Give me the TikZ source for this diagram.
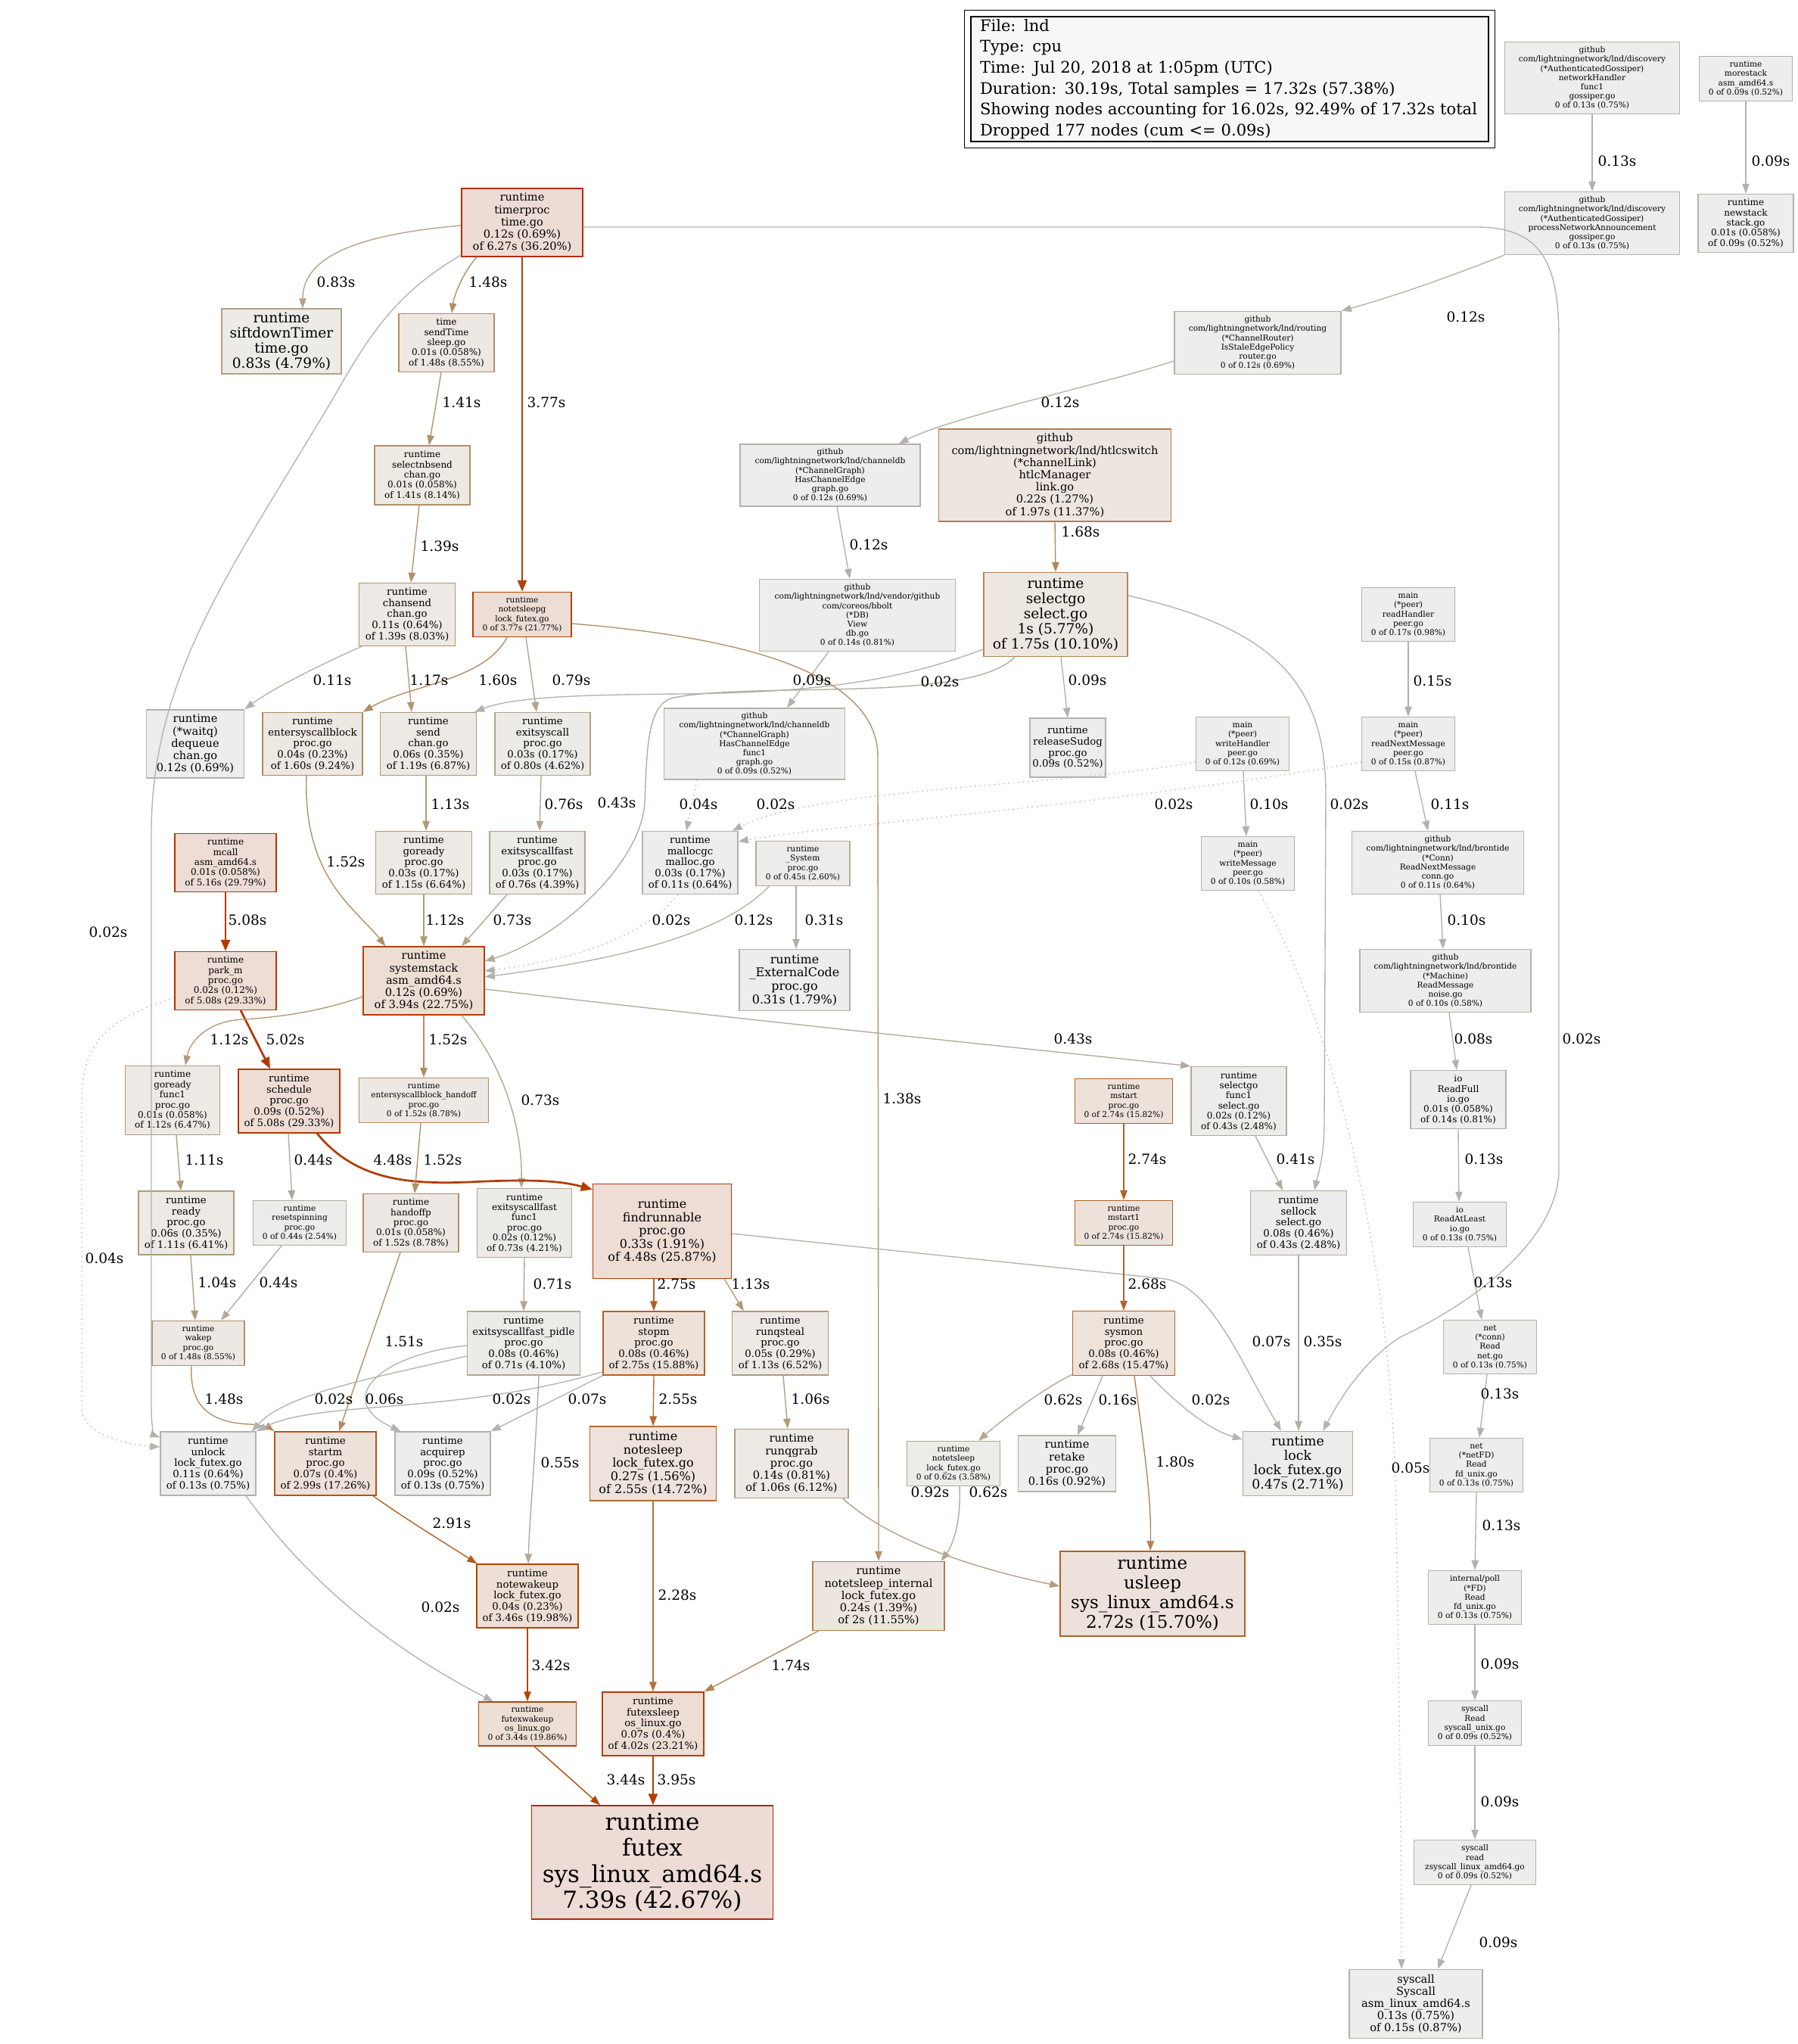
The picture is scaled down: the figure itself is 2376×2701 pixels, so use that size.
\documentclass[tikz,border=0pt]{standalone}
\usepackage{fontspec}
\setmainfont{DejaVu Serif}
\usetikzlibrary{arrows.meta,calc}
\newcommand\ppcol[2]{%
 \pgfmathsetmacro\ppS{#2/17.32}%
 \pgfmathsetmacro\ppSat{min(\ppS/0.2,1)}%
 \pgfmathsetmacro\ppP{pow(\ppS,0.3)}%
 \pgfmathsetmacro\ppG{0.7*(1-\ppSat*\ppP)}%
 \pgfmathsetmacro\ppB{0.7*(1-\ppSat)}%
 \pgfmathsetmacro\ppGb{0.93*(1-0.1*\ppSat*\ppP)}%
 \pgfmathsetmacro\ppBb{0.93*(1-0.1*\ppSat)}%
 \definecolor{#1fg}{rgb}{0.7,\ppG,\ppB}%
 \definecolor{#1bg}{rgb}{0.93,\ppGb,\ppBb}%
}
\ppcol{w2}{0.02}\ppcol{w4}{0.04}\ppcol{w5}{0.05}\ppcol{w6}{0.06}\ppcol{w7}{0.07}
\ppcol{w8}{0.08}\ppcol{w9}{0.09}\ppcol{w10}{0.10}\ppcol{w11}{0.11}\ppcol{w12}{0.12}
\ppcol{w13}{0.13}\ppcol{w15}{0.15}\ppcol{w16}{0.16}\ppcol{w31}{0.31}\ppcol{w35}{0.35}
\ppcol{w41}{0.41}\ppcol{w43}{0.43}\ppcol{w44}{0.44}\ppcol{w55}{0.55}\ppcol{w62}{0.62}
\ppcol{w71}{0.71}\ppcol{w73}{0.73}\ppcol{w76}{0.76}\ppcol{w79}{0.79}\ppcol{w83}{0.83}
\ppcol{w92}{0.92}\ppcol{w104}{1.04}\ppcol{w106}{1.06}\ppcol{w111}{1.11}\ppcol{w112}{1.12}
\ppcol{w113}{1.13}\ppcol{w117}{1.17}\ppcol{w138}{1.38}\ppcol{w139}{1.39}\ppcol{w141}{1.41}
\ppcol{w148}{1.48}\ppcol{w151}{1.51}\ppcol{w152}{1.52}\ppcol{w160}{1.60}\ppcol{w168}{1.68}
\ppcol{w174}{1.74}\ppcol{w180}{1.80}\ppcol{w228}{2.28}\ppcol{w255}{2.55}\ppcol{w268}{2.68}
\ppcol{w274}{2.74}\ppcol{w275}{2.75}\ppcol{w291}{2.91}\ppcol{w342}{3.42}\ppcol{w344}{3.44}
\ppcol{w377}{3.77}\ppcol{w395}{3.95}\ppcol{w448}{4.48}\ppcol{w502}{5.02}\ppcol{w508}{5.08}
\newcommand\fA{\fontsize{10.6}{12.2}\selectfont}
\newcommand\fB{\fontsize{12}{13.4}\selectfont}
\newcommand\fC{\fontsize{13.3}{14.7}\selectfont}
\newcommand\fD{\fontsize{14.6}{16.2}\selectfont}
\newcommand\fE{\fontsize{16}{17.6}\selectfont}
\newcommand\fF{\fontsize{17.3}{18.8}\selectfont}
\newcommand\fG{\fontsize{18.6}{19.8}\selectfont}
\newcommand\fH{\fontsize{23}{26}\selectfont}
\newcommand\fI{\fontsize{31}{34.5}\selectfont}
\newcommand\GN[8]{\ppcol{n#1}{#7}\node[nbox, minimum width=#4pt, minimum height=#5pt, draw=n#1fg, fill=n#1bg, font=#6] (#1) at (#2,#3) {#8};}
\newcommand\EL[4]{\node[lab] (#1) at (#2,#3) {#4};}
\tikzset{
 nbox/.style={rectangle, inner sep=0pt, align=center, line width=1.4pt},
 lab/.style={inner sep=0pt, font=\fontsize{18.5}{20}\selectfont},
 ed/.style={draw=#1fg, line width=1.35pt, -{Triangle[length=13pt,width=9.5pt]}},
 edT/.style={draw=#1fg, line width=2.7pt, -{Triangle[length=15pt,width=12pt]}},
 edD/.style={draw=#1fg, line width=1.35pt, dash pattern=on 1.35pt off 5pt, -{Triangle[length=13pt,width=9.5pt]}},
}
\begin{document}
\begin{tikzpicture}[x=1pt,y=-1pt]
\fill[white] (0,0) rectangle (2376,2701);
\useasboundingbox (0,0) rectangle (2376,2701);
% legend
\node[draw=black, line width=1.4pt, fill=black!3, minimum width=684pt, minimum height=165pt, text width=660pt, inner xsep=12pt, align=left, font=\fontsize{21}{27.6}\selectfont] (legend) at (1625,104.5) {File: lnd\\Type: cpu\\Time: Jul 20, 2018 at 1:05pm (UTC)\\Duration: 30.19s, Total samples = 17.32s (57.38\%)\\Showing nodes accounting for 16.02s, 92.49\% of 17.32s total\\Dropped 177 nodes (cum <= 0.09s)};
\draw[line width=1.4pt] ($(legend.south west)+(-8,8)$) rectangle ($(legend.north east)+(8,-8)$);
% nodes
\GN{nH}{2104}{103}{231}{95}{\fA}{0.13}{github\\com/lightningnetwork/lnd/discovery\\(*AuthenticatedGossiper)\\networkHandler\\func1\\gossiper.go\\0 of 0.13s (0.75\%)}
\GN{morestack}{2307}{104}{123}{59}{\fA}{0.09}{runtime\\morestack\\asm\_amd64.s\\0 of 0.09s (0.52\%)}
\GN{pNA}{2104}{295}{231}{83}{\fA}{0.13}{github\\com/lightningnetwork/lnd/discovery\\(*AuthenticatedGossiper)\\processNetworkAnnouncement\\gossiper.go\\0 of 0.13s (0.75\%)}
\GN{newstack}{2307}{295}{126}{77}{\fB}{0.09}{runtime\\newstack\\stack.go\\0.01s (0.058\%)\\of 0.09s (0.52\%)}
\GN{routing}{1662}{453}{220}{83}{\fA}{0.12}{github\\com/lightningnetwork/lnd/routing\\(*ChannelRouter)\\IsStaleEdgePolicy\\router.go\\0 of 0.12s (0.69\%)}
\GN{ceHas}{1097}{628}{238}{82}{\fA}{0.12}{github\\com/lightningnetwork/lnd/channeldb\\(*ChannelGraph)\\HasChannelEdge\\graph.go\\0 of 0.12s (0.69\%)}
\GN{htlc}{1394}{628}{307}{122}{\fD}{1.97}{github\\com/lightningnetwork/lnd/htlcswitch\\(*channelLink)\\htlcManager\\link.go\\0.22s (1.27\%)\\of 1.97s (11.37\%)}
\GN{bbolt}{1133}{813}{259}{95}{\fA}{0.14}{github\\com/lightningnetwork/lnd/vendor/github\\com/coreos/bbolt\\(*DB)\\View\\db.go\\0 of 0.14s (0.81\%)}
\GN{ceFunc}{997}{983}{239}{94}{\fA}{0.09}{github\\com/lightningnetwork/lnd/channeldb\\(*ChannelGraph)\\HasChannelEdge\\func1\\graph.go\\0 of 0.09s (0.52\%)}
\GN{selectgo}{1395}{812}{190}{111}{\fG}{1.75}{runtime\\selectgo\\select.go\\1s (5.77\%)\\of 1.75s (10.10\%)}
\GN{releaseSudog}{1411}{988}{100}{78}{\fC}{0.09}{runtime\\releaseSudog\\proc.go\\0.09s (0.52\%)}
\GN{readHandler}{1861}{812}{123}{71}{\fA}{0.17}{main\\(*peer)\\readHandler\\peer.go\\0 of 0.17s (0.98\%)}
\GN{readNext}{1861}{983}{123}{71}{\fA}{0.15}{main\\(*peer)\\readNextMessage\\peer.go\\0 of 0.15s (0.87\%)}
\GN{writeHandler}{1642}{983}{123}{71}{\fA}{0.12}{main\\(*peer)\\writeHandler\\peer.go\\0 of 0.12s (0.69\%)}
\GN{writeMessage}{1649}{1141}{123}{71}{\fA}{0.10}{main\\(*peer)\\writeMessage\\peer.go\\0 of 0.10s (0.58\%)}
\GN{brConn}{1900}{1140}{227}{83}{\fA}{0.11}{github\\com/lightningnetwork/lnd/brontide\\(*Conn)\\ReadNextMessage\\conn.go\\0 of 0.11s (0.64\%)}
\GN{brMachine}{1910}{1296}{226}{83}{\fA}{0.10}{github\\com/lightningnetwork/lnd/brontide\\(*Machine)\\ReadMessage\\noise.go\\0 of 0.10s (0.58\%)}
\GN{readFull}{1927}{1453}{126}{77}{\fB}{0.14}{io\\ReadFull\\io.go\\0.01s (0.058\%)\\of 0.14s (0.81\%)}
\GN{readAtLeast}{1929}{1618}{123}{59}{\fA}{0.13}{io\\ReadAtLeast\\io.go\\0 of 0.13s (0.75\%)}
\GN{netConn}{1969}{1780}{123}{71}{\fA}{0.13}{net\\(*conn)\\Read\\net.go\\0 of 0.13s (0.75\%)}
\GN{netFD}{1951}{1936}{123}{71}{\fA}{0.13}{net\\(*netFD)\\Read\\fd\_unix.go\\0 of 0.13s (0.75\%)}
\GN{poll}{1949}{2111}{123}{71}{\fA}{0.13}{internal/poll\\(*FD)\\Read\\fd\_unix.go\\0 of 0.13s (0.75\%)}
\GN{sysRead}{1949}{2277}{123}{59}{\fA}{0.09}{syscall\\Read\\syscall\_unix.go\\0 of 0.09s (0.52\%)}
\GN{sysread}{1949}{2461}{161}{59}{\fA}{0.09}{syscall\\read\\zsyscall\_linux\_amd64.go\\0 of 0.09s (0.52\%)}
\GN{Syscall}{1871}{2648}{176}{91}{\fD}{0.15}{syscall\\Syscall\\asm\_linux\_amd64.s\\0.13s (0.75\%)\\of 0.15s (0.87\%)}
\GN{timerproc}{690}{294}{160}{90}{\fD}{6.27}{runtime\\timerproc\\time.go\\0.12s (0.69\%)\\of 6.27s (36.20\%)}
\GN{siftdown}{372}{451}{158}{86}{\fG}{0.83}{runtime\\siftdownTimer\\time.go\\0.83s (4.79\%)}
\GN{sendTime}{590}{453}{126}{77}{\fB}{1.48}{time\\sendTime\\sleep.go\\0.01s (0.058\%)\\of 1.48s (8.55\%)}
\GN{selectnbsend}{558}{628}{126}{78}{\fB}{1.41}{runtime\\selectnbsend\\chan.go\\0.01s (0.058\%)\\of 1.41s (8.14\%)}
\GN{chansend}{538}{812}{127}{83}{\fC}{1.39}{runtime\\chansend\\chan.go\\0.11s (0.64\%)\\of 1.39s (8.03\%)}
\GN{notetsleepg}{690}{812}{130}{59}{\fA}{3.77}{runtime\\notetsleepg\\lock\_futex.go\\0 of 3.77s (21.77\%)}
\GN{waitq}{258}{983}{129}{90}{\fD}{0.12}{runtime\\(*waitq)\\dequeue\\chan.go\\0.12s (0.69\%)}
\GN{enterblock}{413}{983}{132}{83}{\fC}{1.60}{runtime\\entersyscallblock\\proc.go\\0.04s (0.23\%)\\of 1.60s (9.24\%)}
\GN{send}{566}{983}{127}{83}{\fC}{1.19}{runtime\\send\\chan.go\\0.06s (0.35\%)\\of 1.19s (6.87\%)}
\GN{exitsyscall}{717}{983}{126}{83}{\fC}{0.80}{runtime\\exitsyscall\\proc.go\\0.03s (0.17\%)\\of 0.80s (4.62\%)}
\GN{mcall}{298}{1140}{134}{77}{\fB}{5.16}{runtime\\mcall\\asm\_amd64.s\\0.01s (0.058\%)\\of 5.16s (29.79\%)}
\GN{goready}{560}{1140}{127}{83}{\fC}{1.15}{runtime\\goready\\proc.go\\0.03s (0.17\%)\\of 1.15s (6.64\%)}
\GN{exitfast}{710}{1140}{126}{83}{\fC}{0.76}{runtime\\exitsyscallfast\\proc.go\\0.03s (0.17\%)\\of 0.76s (4.39\%)}
\GN{mallocgc}{912}{1140}{126}{83}{\fC}{0.11}{runtime\\mallocgc\\malloc.go\\0.03s (0.17\%)\\of 0.11s (0.64\%)}
\GN{System}{1061}{1141}{124}{59}{\fA}{0.45}{runtime\\\_System\\proc.go\\0 of 0.45s (2.60\%)}
\GN{ExternalCode}{1050}{1295}{146}{81}{\fE}{0.31}{runtime\\\_ExternalCode\\proc.go\\0.31s (1.79\%)}
\GN{parkm}{298}{1296}{134}{77}{\fB}{5.08}{runtime\\park\_m\\proc.go\\0.02s (0.12\%)\\of 5.08s (29.33\%)}
\GN{systemstack}{560}{1296}{160}{90}{\fD}{3.94}{runtime\\systemstack\\asm\_amd64.s\\0.12s (0.69\%)\\of 3.94s (22.75\%)}
\GN{goreadyf}{228}{1454}{125}{91}{\fB}{1.12}{runtime\\goready\\func1\\proc.go\\0.01s (0.058\%)\\of 1.12s (6.47\%)}
\GN{schedule}{382}{1455}{134}{84}{\fC}{5.08}{runtime\\schedule\\proc.go\\0.09s (0.52\%)\\of 5.08s (29.33\%)}
\GN{enterhandoff}{560}{1454}{171}{59}{\fA}{1.52}{runtime\\entersyscallblock\_handoff\\proc.go\\0 of 1.52s (8.78\%)}
\GN{selectf}{1637}{1455}{126}{91}{\fB}{0.43}{runtime\\selectgo\\func1\\select.go\\0.02s (0.12\%)\\of 0.43s (2.48\%)}
\GN{mstart}{1485}{1455}{129}{59}{\fA}{2.74}{runtime\\mstart\\proc.go\\0 of 2.74s (15.82\%)}
\GN{ready}{246}{1616}{126}{84}{\fC}{1.11}{runtime\\ready\\proc.go\\0.06s (0.35\%)\\of 1.11s (6.41\%)}
\GN{resetspin}{396}{1616}{123}{59}{\fA}{0.44}{runtime\\resetspinning\\proc.go\\0 of 0.44s (2.54\%)}
\GN{handoffp}{543}{1616}{126}{77}{\fB}{1.52}{runtime\\handoffp\\proc.go\\0.01s (0.058\%)\\of 1.52s (8.78\%)}
\GN{exitfastf}{693}{1616}{125}{91}{\fB}{0.73}{runtime\\exitsyscallfast\\func1\\proc.go\\0.02s (0.12\%)\\of 0.73s (4.21\%)}
\GN{findrunnable}{875}{1627}{183}{125}{\fE}{4.48}{runtime\\findrunnable\\proc.go\\0.33s (1.91\%)\\of 4.48s (25.87\%)}
\GN{mstarta}{1485}{1616}{129}{59}{\fA}{2.74}{runtime\\mstart1\\proc.go\\0 of 2.74s (15.82\%)}
\GN{sellock}{1716}{1616}{127}{85}{\fC}{0.43}{runtime\\sellock\\select.go\\0.08s (0.46\%)\\of 0.43s (2.48\%)}
\GN{wakep}{262}{1775}{122}{59}{\fA}{1.48}{runtime\\wakep\\proc.go\\0 of 1.48s (8.55\%)}
\GN{pidle}{692}{1775}{149}{84}{\fC}{0.71}{runtime\\exitsyscallfast\_pidle\\proc.go\\0.08s (0.46\%)\\of 0.71s (4.10\%)}
\GN{stopm}{864}{1775}{134}{84}{\fC}{2.75}{runtime\\stopm\\proc.go\\0.08s (0.46\%)\\of 2.75s (15.88\%)}
\GN{runqsteal}{1031}{1775}{127}{84}{\fC}{1.13}{runtime\\runqsteal\\proc.go\\0.05s (0.29\%)\\of 1.13s (6.52\%)}
\GN{sysmon}{1485}{1775}{135}{85}{\fC}{2.68}{runtime\\sysmon\\proc.go\\0.08s (0.46\%)\\of 2.68s (15.47\%)}
\GN{unlock}{275}{1934}{126}{84}{\fC}{0.13}{runtime\\unlock\\lock\_futex.go\\0.11s (0.64\%)\\of 0.13s (0.75\%)}
\GN{startm}{430}{1934}{134}{84}{\fC}{2.99}{runtime\\startm\\proc.go\\0.07s (0.4\%)\\of 2.99s (17.26\%)}
\GN{acquirep}{585}{1934}{126}{84}{\fC}{0.13}{runtime\\acquirep\\proc.go\\0.09s (0.52\%)\\of 0.13s (0.75\%)}
\GN{notesleep}{863}{1934}{167}{98}{\fE}{2.55}{runtime\\notesleep\\lock\_futex.go\\0.27s (1.56\%)\\of 2.55s (14.72\%)}
\GN{runqgrab}{1046}{1934}{150}{91}{\fD}{1.06}{runtime\\runqgrab\\proc.go\\0.14s (0.81\%)\\of 1.06s (6.12\%)}
\GN{notetsleep}{1260}{1934}{123}{59}{\fA}{0.62}{runtime\\notetsleep\\lock\_futex.go\\0 of 0.62s (3.58\%)}
\GN{retake}{1410}{1934}{129}{74}{\fD}{0.16}{runtime\\retake\\proc.go\\0.16s (0.92\%)}
\GN{lock}{1715}{1934}{145}{85}{\fF}{0.47}{runtime\\lock\\lock\_futex.go\\0.47s (2.71\%)}
\GN{notewakeup}{697}{2109}{134}{84}{\fC}{3.46}{runtime\\notewakeup\\lock\_futex.go\\0.04s (0.23\%)\\of 3.46s (19.98\%)}
\GN{notetsleepInt}{1161}{2109}{174}{91}{\fD}{2.00}{runtime\\notetsleep\_internal\\lock\_futex.go\\0.24s (1.39\%)\\of 2s (11.55\%)}
\GN{usleep}{1523}{2106}{244}{112}{\fH}{2.72}{runtime\\usleep\\sys\_linux\_amd64.s\\2.72s (15.70\%)}
\GN{futexwakeup}{697}{2278}{129}{58}{\fA}{3.44}{runtime\\futexwakeup\\os\_linux.go\\0 of 3.44s (19.86\%)}
\GN{futexsleep}{863}{2278}{134}{84}{\fC}{4.02}{runtime\\futexsleep\\os\_linux.go\\0.07s (0.4\%)\\of 4.02s (23.21\%)}
\GN{futex}{862}{2461}{319}{150}{\fI}{7.39}{runtime\\futex\\sys\_linux\_amd64.s\\7.39s (42.67\%)}
% edges
\draw[ed=w13] (nH.south) -- (pNA.north);
\draw[ed=w9] (morestack.south) -- (newstack.north);
\draw[ed=w12] (pNA.south west) .. controls (1900,372) and (1830,395) .. (routing.north east);
\draw[ed=w12] ($(routing.west)+(0,24)$) .. controls (1450,510) and (1260,550) .. ($(ceHas.north east)+(-29,0)$);
\draw[ed=w12] ($(ceHas.south)+(9,0)$) -- ($(bbolt.north)+(-10,0)$);
\draw[ed=w9] ($(bbolt.south)+(-38,0)$) -- ($(ceFunc.north)+(43,0)$);
\draw[ed=w168] (htlc.south) -- (selectgo.north);
\draw[ed=w2] ($(selectgo.west)+(0,46)$) .. controls (1200,895) and (1100,915) .. (900,917) .. controls (780,918) and (680,920) .. ($(send.north east)+(-3,0)$);
\draw[ed=w43] ($(selectgo.south west)+(42,0)$) .. controls (1280,930) and (1000,900) .. (890,922) .. controls (855,930) and (855,990) .. (852,1060) .. controls (848,1140) and (740,1240) .. ($(systemstack.east)+(0,-26)$);
\draw[ed=w9] ($(selectgo.south)+(7,0)$) -- (releaseSudog.north);
\draw[ed=w2] ($(selectgo.east)+(0,-25)$) .. controls (1680,830) and (1752,900) .. (1752,1050) -- (1750,1480) .. controls (1750,1530) and (1742,1550) .. ($(sellock.north)+(21,0)$);
\draw[ed=w83] ($(timerproc.west)+(0,4)$) .. controls (470,310) and (400,340) .. ($(siftdown.north)+(28,0)$);
\draw[ed=w148] ($(timerproc.south)+(-60,0)$) .. controls (612,360) and (600,390) .. ($(sendTime.north)+(7,0)$);
\draw[edT=w377] (timerproc.south) -- (notetsleepg.north);
\draw[ed=w2] ($(timerproc.west)+(0,43)$) .. controls (500,400) and (470,480) .. (420,560) .. controls (300,760) and (200,900) .. (200,1100) -- (200,1860) .. controls (200,1890) and (205,1897) .. ($(unlock.north west)+(0,8)$);
\draw[ed=w2] ($(timerproc.east)+(0,6)$) -- (1950,300) .. controls (2040,300) and (2060,350) .. (2060,450) -- (2060,1550) .. controls (2055,1640) and (1950,1720) .. (1850,1767) .. controls (1800,1800) and (1770,1850) .. ($(lock.north east)+(-40,0)$);
\draw[ed=w141] ($(sendTime.south)+(-7,0)$) -- ($(selectnbsend.north)+(9,0)$);
\draw[ed=w139] ($(selectnbsend.south)+(-4,0)$) -- ($(chansend.north)+(5,0)$);
\draw[ed=w11] ($(chansend.south west)+(4,0)$) .. controls (420,880) and (360,910) .. (waitq.north east);
\draw[ed=w117] ($(chansend.south)+(-2,0)$) -- ($(send.north)+(-22,0)$);
\draw[ed=w160] ($(notetsleepg.south)+(-20,0)$) .. controls (640,900) and (540,905) .. (enterblock.north east);
\draw[ed=w79] ($(notetsleepg.south)+(5,0)$) -- ($(exitsyscall.north)+(-8,0)$);
\draw[ed=w138] ($(notetsleepg.east)+(0,12)$) .. controls (950,840) and (1160,880) .. (1160,1000) -- (notetsleepInt.north);
\draw[ed=w152] ($(enterblock.south)+(-8,0)$) .. controls (400,1160) and (470,1200) .. ($(systemstack.north west)+(30,0)$);
\draw[ed=w113] ($(send.south)+(-3,0)$) -- ($(goready.north)+(3,0)$);
\draw[ed=w76] ($(exitsyscall.south)+(-2,0)$) -- ($(exitfast.north)+(3,0)$);
\draw[ed=w112] (goready.south) -- (systemstack.north);
\draw[ed=w73] ($(exitfast.south)+(-40,0)$) -- ($(systemstack.north)+(50,0)$);
\draw[edT=w508] (mcall.south) -- (parkm.north);
\draw[edT=w502] ($(parkm.south)+(20,0)$) -- ($(schedule.north)+(-25,0)$);
\draw[edD=w4] ($(parkm.west)+(0,22)$) .. controls (150,1345) and (110,1370) .. (108,1450) -- (108,1860) .. controls (108,1900) and (180,1910) .. ($(unlock.west)+(0,-22)$);
\draw[ed=w112] ($(systemstack.west)+(0,21)$) .. controls (420,1338) and (360,1345) .. (320,1347) .. controls (270,1350) and (250,1380) .. ($(goreadyf.north)+(17,0)$);
\draw[ed=w152] (systemstack.south) -- (enterhandoff.north);
\draw[ed=w73] ($(systemstack.south)+(50,0)$) .. controls (660,1400) and (690,1480) .. ($(exitfastf.north)+(-4,0)$);
\draw[ed=w43] ($(systemstack.east)+(0,11)$) .. controls (1000,1350) and (1400,1390) .. (selectf.north west);
\draw[edD=w4] ($(ceFunc.south)+(-76,0)$) -- ($(mallocgc.north)+(-5,0)$);
\draw[edD=w2] ($(writeHandler.west)+(0,24)$) .. controls (1400,1040) and (1080,1040) .. ($(mallocgc.north east)+(-8,0)$);
\draw[edD=w2] ($(readNext.west)+(0,24)$) .. controls (1500,1060) and (1100,1090) .. ($(mallocgc.east)+(0,-28)$);
\draw[edD=w2] ($(mallocgc.south)+(-16,0)$) .. controls (850,1240) and (750,1270) .. ($(systemstack.east)+(0,-13)$);
\draw[ed=w12] ($(System.south west)+(18,0)$) .. controls (950,1240) and (800,1270) .. ($(systemstack.east)+(0,-5)$);
\draw[ed=w31] ($(System.south)+(-9,0)$) -- ($(ExternalCode.north)+(2,0)$);
\draw[ed=w15] (readHandler.south) -- (readNext.north);
\draw[ed=w10] ($(writeHandler.south)+(1,0)$) -- ($(writeMessage.north)+(-2,0)$);
\draw[ed=w11] ($(readNext.south)+(9,0)$) -- ($(brConn.north)+(-13,0)$);
\draw[ed=w10] ($(brConn.south)+(3,0)$) -- ($(brMachine.north)+(-3,0)$);
\draw[ed=w8] ($(brMachine.south)+(5,0)$) -- ($(readFull.north)+(-2,0)$);
\draw[ed=w13] (readFull.south) -- ($(readAtLeast.north)+(-1,0)$);
\draw[ed=w13] ($(readAtLeast.south)+(11,0)$) -- ($(netConn.north)+(-11,0)$);
\draw[ed=w13] ($(netConn.south)+(-4,0)$) -- ($(netFD.north)+(4,0)$);
\draw[ed=w13] (netFD.south) -- (poll.north);
\draw[ed=w9] (poll.south) -- (sysRead.north);
\draw[ed=w9] (sysRead.south) -- (sysread.north);
\draw[ed=w9] ($(sysread.south)+(-5,0)$) -- ($(Syscall.north)+(29,0)$);
\draw[edD=w5] ($(writeMessage.south)+(14,0)$) .. controls (1760,1350) and (1840,1650) .. (1845,2000) .. controls (1850,2300) and (1852,2500) .. ($(Syscall.north)+(-19,0)$);
\draw[ed=w111] ($(goreadyf.south)+(5,0)$) -- ($(ready.north)+(-7,0)$);
\draw[ed=w104] ($(ready.south)+(6,0)$) -- ($(wakep.north)+(-4,0)$);
\draw[ed=w44] ($(resetspin.south)+(-24,0)$) -- ($(wakep.north)+(30,0)$);
\draw[ed=w44] ($(schedule.south)+(-1,0)$) -- ($(resetspin.north)+(-10,0)$);
\draw[edT=w448] ($(schedule.south)+(37,0)$) .. controls (470,1560) and (540,1565) .. (620,1562) .. controls (700,1558) and (740,1560) .. ($(findrunnable.north west)+(0,8)$);
\draw[ed=w152] ($(enterhandoff.south)+(-4,0)$) -- ($(handoffp.north)+(5,0)$);
\draw[ed=w71] (exitfastf.south) -- (pidle.north);
\draw[ed=w151] ($(handoffp.south)+(-14,0)$) -- ($(startm.north)+(18,0)$);
\draw[ed=w148] ($(wakep.south)+(-9,0)$) .. controls (250,1860) and (280,1880) .. (330,1882) .. controls (345,1883) and (355,1886) .. (startm.north west);
\draw[ed=w275] ($(findrunnable.south)+(-11,0)$) -- (stopm.north);
\draw[ed=w113] ($(findrunnable.south east)+(-10,0)$) -- ($(runqsteal.north west)+(16,0)$);
\draw[ed=w7] ($(findrunnable.east)+(0,3)$) .. controls (1200,1655) and (1450,1680) .. (1540,1690) .. controls (1600,1700) and (1640,1800) .. ($(lock.north)+(-22,0)$);
\draw[ed=w2] ($(stopm.south west)+(0,-5)$) .. controls (600,1870) and (420,1850) .. (unlock.north east);
\draw[ed=w7] (stopm.south west) -- (acquirep.north east);
\draw[ed=w255] (stopm.south) -- (notesleep.north);
\draw[ed=w2] ($(pidle.west)+(0,17)$) .. controls (500,1820) and (380,1840) .. ($(unlock.north east)+(-6,0)$);
\draw[ed=w6] ($(pidle.west)+(0,3)$) .. controls (500,1790) and (440,1850) .. ($(acquirep.north west)+(8,0)$);
\draw[ed=w55] ($(pidle.south)+(20,0)$) .. controls (706,1950) and (700,2000) .. ($(notewakeup.north)+(1,0)$);
\draw[ed=w106] ($(runqsteal.south)+(4,0)$) -- ($(runqgrab.north)+(-5,0)$);
\draw[ed=w92] ($(runqgrab.south east)+(-8,0)$) .. controls (1180,2040) and (1300,2075) .. ($(usleep.west)+(0,-10)$);
\draw[ed=w291] ($(startm.south)+(63,0)$) .. controls (540,2010) and (590,2040) .. ($(notewakeup.north west)+(1,0)$);
\draw[ed=w2] ($(unlock.south)+(50,0)$) .. controls (400,2080) and (500,2170) .. ($(futexwakeup.north west)+(20,0)$);
\draw[ed=w342] (notewakeup.south) -- (futexwakeup.north);
\draw[ed=w344] ($(futexwakeup.south)+(9,0)$) -- ($(futex.north)+(-69,0)$);
\draw[ed=w228] (notesleep.south) -- (futexsleep.north);
\draw[ed=w174] ($(notetsleepInt.south west)+(8,0)$) -- (futexsleep.north east);
\draw[edT=w395] (futexsleep.south) -- ($(futex.north)+(1,0)$);
\draw[ed=w274] (mstart.south) -- (mstarta.north);
\draw[ed=w268] (mstarta.south) -- (sysmon.north);
\draw[ed=w41] ($(selectf.south)+(22,0)$) -- ($(sellock.north)+(-21,0)$);
\draw[ed=w35] (sellock.south) -- ($(lock.north)+(1,0)$);
\draw[ed=w62] ($(sysmon.south west)+(0,-2)$) .. controls (1370,1840) and (1320,1880) .. ($(notetsleep.north)+(33,0)$);
\draw[ed=w16] ($(sysmon.south)+(-28,0)$) -- ($(retake.north)+(14,0)$);
\draw[ed=w180] ($(sysmon.south)+(14,0)$) .. controls (1510,1900) and (1522,1980) .. ($(usleep.north)+(-3,0)$);
\draw[ed=w2] ($(sysmon.south)+(35,0)$) .. controls (1560,1860) and (1600,1890) .. ($(lock.west)+(0,-32)$);
\draw[ed=w62] ($(notetsleep.south)+(8,0)$) .. controls (1270,2010) and (1260,2040) .. ($(notetsleepInt.north east)+(-5,0)$);
% labels
\EL{l1}{2137}{213}{0.13s}
\EL{l2}{2340}{213}{0.09s}
\EL{l3}{1937}{419}{0.12s}
\EL{l4}{1401}{532}{0.12s}
\EL{l5}{1148}{720}{0.12s}
\EL{l6}{1073}{899}{0.09s}
\EL{l7}{1428}{703}{1.68s}
\EL{l8}{1242}{901}{0.02s}
\EL{l9}{815}{1061}{0.43s}
\EL{l10}{1437}{899}{0.09s}
\EL{l11}{1783}{1063}{0.02s}
\EL{l12}{444}{373}{0.83s}
\EL{l13}{645}{373}{1.48s}
\EL{l14}{722}{532}{3.77s}
\EL{l15}{143}{1232}{0.02s}
\EL{l16}{2090}{1373}{0.02s}
\EL{l17}{610}{532}{1.41s}
\EL{l18}{581}{722}{1.39s}
\EL{l19}{439}{899}{0.11s}
\EL{l20}{567}{899}{1.17s}
\EL{l21}{658}{899}{1.60s}
\EL{l22}{755}{899}{0.79s}
\EL{l23}{1192}{1452}{1.38s}
\EL{l24}{457}{1139}{1.52s}
\EL{l25}{595}{1063}{1.13s}
\EL{l26}{745}{1063}{0.76s}
\EL{l27}{588}{1216}{1.12s}
\EL{l28}{677}{1216}{0.73s}
\EL{l29}{327}{1216}{5.08s}
\EL{l30}{377}{1374}{5.02s}
\EL{l31}{138}{1663}{0.04s}
\EL{l32}{303}{1374}{1.12s}
\EL{l33}{592}{1374}{1.52s}
\EL{l34}{714}{1454}{0.73s}
\EL{l35}{1418}{1373}{0.43s}
\EL{l36}{923}{1063}{0.04s}
\EL{l37}{1025}{1063}{0.02s}
\EL{l38}{1551}{1063}{0.02s}
\EL{l39}{887}{1216}{0.02s}
\EL{l40}{996}{1216}{0.12s}
\EL{l41}{1089}{1216}{0.31s}
\EL{l42}{1893}{900}{0.15s}
\EL{l43}{1677}{1063}{0.10s}
\EL{l44}{1916}{1063}{0.11s}
\EL{l45}{1938}{1216}{0.10s}
\EL{l46}{1947}{1373}{0.08s}
\EL{l47}{1961}{1532}{0.13s}
\EL{l48}{1973}{1695}{0.13s}
\EL{l49}{1982}{1842}{0.13s}
\EL{l50}{1984}{2016}{0.13s}
\EL{l51}{1982}{2199}{0.09s}
\EL{l52}{1982}{2381}{0.09s}
\EL{l53}{1980}{2567}{0.09s}
\EL{l54}{1864}{1940}{0.05s}
\EL{l55}{270}{1533}{1.11s}
\EL{l56}{287}{1695}{1.04s}
\EL{l57}{368}{1695}{0.44s}
\EL{l58}{414}{1533}{0.44s}
\EL{l59}{519}{1533}{4.48s}
\EL{l60}{585}{1533}{1.52s}
\EL{l61}{730}{1697}{0.71s}
\EL{l62}{534}{1773}{1.51s}
\EL{l63}{296}{1849}{1.48s}
\EL{l64}{894}{1697}{2.75s}
\EL{l65}{992}{1697}{1.13s}
\EL{l66}{1680}{1773}{0.07s}
\EL{l67}{676}{1849}{0.02s}
\EL{l68}{776}{1849}{0.07s}
\EL{l69}{896}{1849}{2.55s}
\EL{l70}{441}{1849}{0.02s}
\EL{l71}{508}{1849}{0.06s}
\EL{l72}{740}{1933}{0.55s}
\EL{l73}{1071}{1849}{1.06s}
\EL{l74}{1229}{1972}{0.92s}
\EL{l75}{597}{2013}{2.91s}
\EL{l76}{582}{2124}{0.02s}
\EL{l77}{728}{2201}{3.42s}
\EL{l78}{827}{2352}{3.44s}
\EL{l79}{895}{2108}{2.28s}
\EL{l80}{1045}{2201}{1.74s}
\EL{l81}{894}{2352}{3.95s}
\EL{l82}{1516}{1532}{2.74s}
\EL{l83}{1516}{1697}{2.68s}
\EL{l84}{1712}{1532}{0.41s}
\EL{l85}{1748}{1773}{0.35s}
\EL{l86}{1405}{1850}{0.62s}
\EL{l87}{1477}{1850}{0.16s}
\EL{l88}{1553}{1932}{1.80s}
\EL{l89}{1600}{1850}{0.02s}
\EL{l90}{1306}{1972}{0.62s}
\end{tikzpicture}
\end{document}
